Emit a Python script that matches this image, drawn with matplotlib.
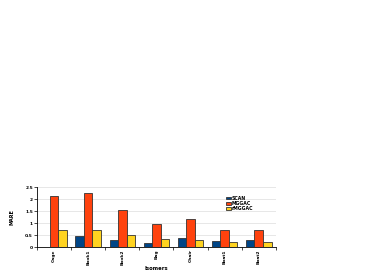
import matplotlib

matplotlib.use("Agg")
import matplotlib.pyplot as plt
import numpy as np

categories = ["Cage", "Book1", "Book2", "Bag", "Chair", "Boat1", "Boat2"]
scan = [0.0, 0.45, 0.30, 0.17, 0.38, 0.27, 0.28]
mggac = [2.12, 2.25, 1.55, 0.97, 1.15, 0.73, 0.72]
rmggac = [0.72, 0.73, 0.50, 0.32, 0.30, 0.20, 0.20]
series = [("SCAN", scan, "#004586"), ("MGGAC", mggac, "#ff420e"), ("rMGGAC", rmggac, "#ffd320")]
yticks = [0, 0.5, 1, 1.5, 2, 2.5]
ytick_labels = ["0", "0.5", "1", "1.5", "2", "2.5"]

fig = plt.figure(figsize=(3.82, 2.73), dpi=100)
ax = fig.add_axes([0.097, 0.095, 0.625, 0.22])

x = np.arange(len(categories))
width = 0.25
for i, (name, values, color) in enumerate(series):
    ax.bar(x + (i - 1) * width, values, width, color=color, edgecolor="#333333",
           linewidth=0.6, label=name, zorder=3)

ax.set_xlim(-0.5, len(categories) - 0.5)
ax.set_ylim(0, 2.5)
ax.set_yticks(yticks)
ax.set_yticklabels(ytick_labels, fontsize=3.2, fontweight="bold")
ax.set_xticks(x)
ax.set_xticklabels(categories, rotation=90, fontsize=3.2, fontweight="bold")
ax.set_xticks(np.arange(len(categories) + 1) - 0.5, minor=True)
ax.tick_params(axis="x", which="major", length=0, pad=1.5)
ax.tick_params(axis="x", which="minor", length=2, width=0.5)
ax.tick_params(axis="y", length=2, width=0.5, pad=1)
ax.grid(axis="y", color="#dddddd", linewidth=0.5, zorder=0)
for side in ["top", "right"]:
    ax.spines[side].set_visible(False)
ax.spines["left"].set_linewidth(0.6)
ax.spines["bottom"].set_linewidth(0.6)
ax.set_ylabel("MARE", fontsize=3.5, fontweight="bold", labelpad=8)
ax.set_xlabel("Isomers", fontsize=3.8, fontweight="bold", labelpad=1)
ax.legend(loc="upper left", bbox_to_anchor=(0.78, 0.9), frameon=False,
          handlelength=1.0, handleheight=0.45, handletextpad=0.3,
          labelspacing=0.05, borderpad=0.1, prop={"size": 3.3, "weight": "bold"})

fig.savefig("out.png", dpi=100)
